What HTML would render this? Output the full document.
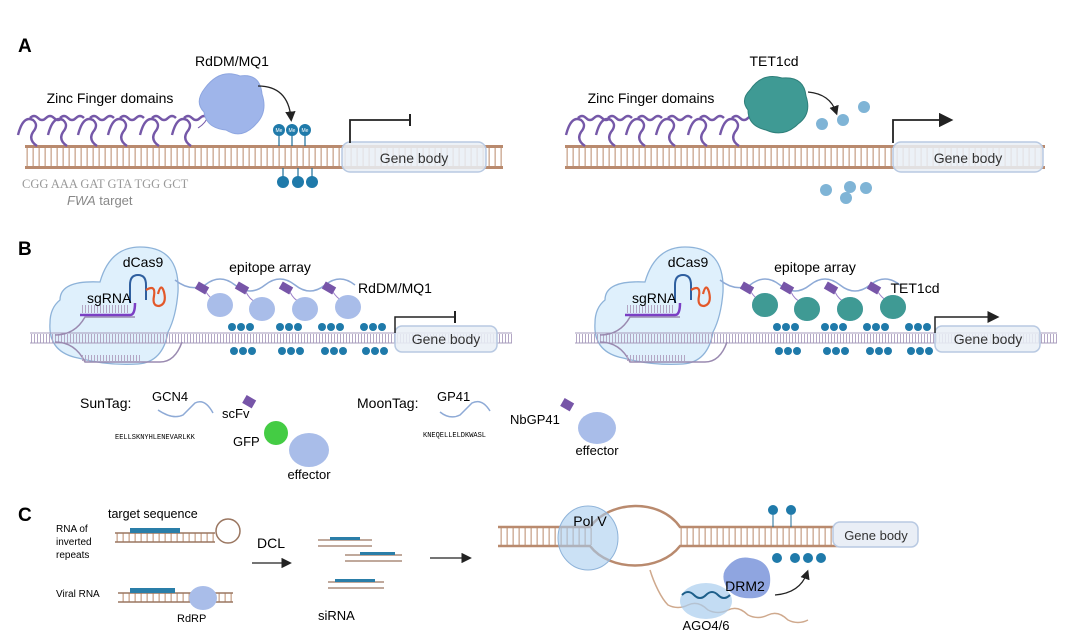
<!DOCTYPE html>
<html><head><meta charset="utf-8"><style>
html,body{margin:0;padding:0;background:#fff;}
svg{display:block;font-family:"Liberation Sans",sans-serif;}
</style></head><body>
<svg width="1080" height="643" viewBox="0 0 1080 643" xmlns="http://www.w3.org/2000/svg">
<defs>
<pattern id="rungA" width="6" height="20" patternUnits="userSpaceOnUse"><rect x="2.5" y="0" width="1.3" height="20" fill="#c9a48c"/></pattern>
<pattern id="rungB" width="3" height="10" patternUnits="userSpaceOnUse"><rect x="1" y="0" width="1" height="10" fill="#b3a6c4"/></pattern>
<marker id="ah" markerWidth="8" markerHeight="8" refX="5" refY="4" orient="auto"><path d="M0,0 L8,4 L0,8 z" fill="#222"/></marker>
</defs>

<text x="18" y="52" font-size="19" font-weight="bold">A</text>
<rect x="25" y="147" width="478" height="20" fill="url(#rungA)"/>
<rect x="25" y="145" width="478" height="3" fill="#b98a6e"/>
<rect x="25" y="166" width="478" height="3" fill="#b98a6e"/>
<rect x="342" y="142" width="144" height="30" rx="8" fill="#e9eef6" fill-opacity="0.85" stroke="#b8c9e2" stroke-width="1.5"/>
<text x="414" y="163" font-size="14" text-anchor="middle" fill="#333">Gene body</text>
<path d="M350,143 V120 H410" fill="none" stroke="#222" stroke-width="1.8"/>
<path d="M410,114 V126" stroke="#222" stroke-width="2"/>
<text x="232" y="66" font-size="14" text-anchor="middle">RdDM/MQ1</text>
<text x="110" y="103" font-size="14" text-anchor="middle">Zinc Finger domains</text>
<g fill="none" stroke="#7558a8" stroke-width="2.4">
<path d="M18,135 q5,-20 15,-15 q6,5 0,12 q-5,8 4,14 M30,118 q4,-4 8,0 q4,4 8,0 q4,-4 8,0 q4,4 8,0"/>
<path d="M48,135 q5,-20 15,-15 q6,5 0,12 q-5,8 4,14 M60,118 q4,-4 8,0 q4,4 8,0 q4,-4 8,0"/>
<path d="M78,135 q5,-20 15,-15 q6,5 0,12 q-5,8 4,14 M90,118 q4,-4 8,0 q4,4 8,0 q4,-4 8,0"/>
<path d="M108,135 q5,-20 15,-15 q6,5 0,12 q-5,8 4,14 M120,118 q4,-4 8,0 q4,4 8,0 q4,-4 8,0"/>
<path d="M140,135 q5,-20 15,-15 q6,5 0,12 q-5,8 4,14 M152,118 q4,-4 8,0 q4,4 8,0 q4,-4 8,0"/>
<path d="M172,135 q5,-20 15,-15 q6,5 0,12 q-5,8 4,14 M184,118 q4,-4 8,0 q4,4 8,0 q4,-4 8,0"/>
<path d="M198,128 q8,-5 10,-12" stroke-width="1"/>
</g>
<path d="M205,88 q15,-20 35,-12 q20,-3 22,18 q6,18 -6,30 q-14,16 -30,6 q-20,-2 -22,-18 q-10,-10 1,-24z" fill="#9fb5ea" stroke="#8ea6e0"/>
<path d="M258,86 q30,0 33,32" fill="none" stroke="#222" stroke-width="1.3" marker-end="url(#ah)"/>
<g stroke="#1c6e99" stroke-width="1.2">
<line x1="279" y1="134" x2="279" y2="146"/><line x1="292" y1="134" x2="292" y2="146"/><line x1="305" y1="134" x2="305" y2="146"/>
<line x1="283" y1="168" x2="283" y2="177"/><line x1="298" y1="168" x2="298" y2="177"/><line x1="312" y1="168" x2="312" y2="177"/>
</g>
<g fill="#1f7aaa"><circle cx="279" cy="130" r="6"/><circle cx="292" cy="130" r="6"/><circle cx="305" cy="130" r="6"/>
<circle cx="283" cy="182" r="6"/><circle cx="298" cy="182" r="6"/><circle cx="312" cy="182" r="6"/></g>
<g fill="#fff" font-size="5" text-anchor="middle"><text x="279" y="132">Me</text><text x="292" y="132">Me</text><text x="305" y="132">Me</text></g>
<text x="22" y="188" font-size="12.5" font-family="Liberation Serif,serif" fill="#999">CGG AAA GAT GTA TGG GCT</text>
<text x="67" y="205" font-size="13" fill="#888"><tspan font-style="italic">FWA</tspan> target</text>

<rect x="565" y="147" width="480" height="20" fill="url(#rungA)"/>
<rect x="565" y="145" width="480" height="3" fill="#b98a6e"/>
<rect x="565" y="166" width="480" height="3" fill="#b98a6e"/>
<rect x="893" y="142" width="150" height="30" rx="8" fill="#e9eef6" fill-opacity="0.85" stroke="#b8c9e2" stroke-width="1.5"/>
<text x="968" y="163" font-size="14" text-anchor="middle" fill="#333">Gene body</text>
<path d="M893,143 V120 H948" fill="none" stroke="#222" stroke-width="1.8" marker-end="url(#ah)"/>
<text x="774" y="66" font-size="14" text-anchor="middle">TET1cd</text>
<text x="651" y="103" font-size="14" text-anchor="middle">Zinc Finger domains</text>
<g fill="none" stroke="#7558a8" stroke-width="2.4" transform="translate(548,0)">
<path d="M18,135 q5,-20 15,-15 q6,5 0,12 q-5,8 4,14 M30,118 q4,-4 8,0 q4,4 8,0 q4,-4 8,0 q4,4 8,0"/>
<path d="M48,135 q5,-20 15,-15 q6,5 0,12 q-5,8 4,14 M60,118 q4,-4 8,0 q4,4 8,0 q4,-4 8,0"/>
<path d="M78,135 q5,-20 15,-15 q6,5 0,12 q-5,8 4,14 M90,118 q4,-4 8,0 q4,4 8,0 q4,-4 8,0"/>
<path d="M108,135 q5,-20 15,-15 q6,5 0,12 q-5,8 4,14 M120,118 q4,-4 8,0 q4,4 8,0 q4,-4 8,0"/>
<path d="M140,135 q5,-20 15,-15 q6,5 0,12 q-5,8 4,14 M152,118 q4,-4 8,0 q4,4 8,0 q4,-4 8,0"/>
<path d="M172,135 q5,-20 15,-15 q6,5 0,12 q-5,8 4,14 M184,118 q4,-4 8,0 q4,4 8,0 q4,-4 8,0"/>
</g>
<path d="M750,90 q12,-18 32,-12 q22,-2 24,18 q6,18 -8,28 q-14,14 -32,6 q-18,-4 -18,-20 q-8,-10 2,-20z" fill="#3f9a94" stroke="#2e7f7a"/>
<path d="M808,92 q22,2 28,20" fill="none" stroke="#222" stroke-width="1.2" marker-end="url(#ah)"/>
<g fill="#7fb4d6"><circle cx="822" cy="124" r="6"/><circle cx="843" cy="120" r="6"/><circle cx="864" cy="107" r="6"/>
<circle cx="826" cy="190" r="6"/><circle cx="846" cy="198" r="6"/><circle cx="866" cy="188" r="6"/><circle cx="850" cy="187" r="6"/></g>

<text x="18" y="255" font-size="19" font-weight="bold">B</text>
<g id="bl">
<path d="M60,300 q0,-20 40,-18 q10,-35 40,-35 q40,0 38,45 q-2,25 -10,40 q-5,30 -30,32 q-30,2 -60,-6 q-30,-6 -28,-35 q0,-15 10,-23z" fill="#dff0fc" stroke="#8eb3d9" stroke-width="1.3"/>
<rect x="30" y="334" width="482" height="9" fill="url(#rungB)"/>
<line x1="30" y1="333" x2="512" y2="333" stroke="#a79cbc"/><line x1="30" y1="343" x2="512" y2="343" stroke="#a79cbc"/>
<path d="M55,335 q20,0 30,-18 H135 M55,342 q20,0 30,20 H160 q15,0 22,-20" fill="none" stroke="#9a8ab0" stroke-width="1.5"/>
<path d="M80,315 H130 q5,0 5,-12" fill="none" stroke="#7b3fc4" stroke-width="2.5"/>
<rect x="80" y="305" width="50" height="8" fill="url(#rungB)"/>
<rect x="80" y="355" width="60" height="6" fill="url(#rungB)"/>
<path d="M130,303 v-18 q0,-10 8,-10 q8,0 8,10 v15" fill="none" stroke="#2f5f9f" stroke-width="2"/>
<path d="M146,290 q10,-6 8,6 q-2,10 5,10 q8,-2 5,-14 q-3,-10 -6,2" fill="none" stroke="#e3582a" stroke-width="2.2"/>
<path d="M175,280 q15,12 30,5 q15,-12 30,0 q15,12 30,0 q15,-12 30,0 q15,12 30,0 q15,-12 30,0" fill="none" stroke="#8eaad6" stroke-width="1.5"/>
<g fill="#7755a8"><rect x="196" y="284" width="12" height="8" transform="rotate(30 202 288)"/><rect x="236" y="284" width="12" height="8" transform="rotate(30 242 288)"/><rect x="280" y="284" width="12" height="8" transform="rotate(30 286 288)"/><rect x="323" y="284" width="12" height="8" transform="rotate(30 329 288)"/></g>
<g fill="none" stroke="#9a7fc8" stroke-width="1"><path d="M206,292 q4,6 8,8"/><path d="M246,292 q4,8 10,10"/><path d="M290,292 q4,8 10,10"/><path d="M333,292 q4,6 8,8"/></g>
<g fill="#a9bde9"><ellipse cx="220" cy="305" rx="13" ry="12"/><ellipse cx="262" cy="309" rx="13" ry="12"/><ellipse cx="305" cy="309" rx="13" ry="12"/><ellipse cx="348" cy="307" rx="13" ry="12"/></g>
<g fill="#1f7aaa">
<circle cx="232" cy="327" r="4"/><circle cx="241" cy="327" r="4"/><circle cx="250" cy="327" r="4"/>
<circle cx="280" cy="327" r="4"/><circle cx="289" cy="327" r="4"/><circle cx="298" cy="327" r="4"/>
<circle cx="322" cy="327" r="4"/><circle cx="331" cy="327" r="4"/><circle cx="340" cy="327" r="4"/>
<circle cx="364" cy="327" r="4"/><circle cx="373" cy="327" r="4"/><circle cx="382" cy="327" r="4"/>
<circle cx="234" cy="351" r="4"/><circle cx="243" cy="351" r="4"/><circle cx="252" cy="351" r="4"/>
<circle cx="282" cy="351" r="4"/><circle cx="291" cy="351" r="4"/><circle cx="300" cy="351" r="4"/>
<circle cx="325" cy="351" r="4"/><circle cx="334" cy="351" r="4"/><circle cx="343" cy="351" r="4"/>
<circle cx="366" cy="351" r="4"/><circle cx="375" cy="351" r="4"/><circle cx="384" cy="351" r="4"/>
</g>
<text x="143" y="267" font-size="14" text-anchor="middle">dCas9</text>
<text x="87" y="303" font-size="14">sgRNA</text>
<text x="270" y="272" font-size="14" text-anchor="middle">epitope array</text>
</g>
<rect x="395" y="326" width="102" height="26" rx="7" fill="#e9eef6" fill-opacity="0.85" stroke="#b8c9e2" stroke-width="1.5"/>
<text x="446" y="344" font-size="14" text-anchor="middle" fill="#333">Gene body</text>
<path d="M395,333 V317 H455" fill="none" stroke="#222" stroke-width="1.5"/><path d="M455,311 V323" stroke="#222" stroke-width="2"/>
<text x="395" y="293" font-size="14" text-anchor="middle">RdDM/MQ1</text>

<use href="#bl" transform="translate(545,0)"/>
<g fill="#3f9a94"><ellipse cx="765" cy="305" rx="13" ry="12"/><ellipse cx="807" cy="309" rx="13" ry="12"/><ellipse cx="850" cy="309" rx="13" ry="12"/><ellipse cx="893" cy="307" rx="13" ry="12"/></g>
<rect x="935" y="326" width="105" height="26" rx="7" fill="#e9eef6" fill-opacity="0.85" stroke="#b8c9e2" stroke-width="1.5"/>
<text x="988" y="344" font-size="14" text-anchor="middle" fill="#333">Gene body</text>
<path d="M935,333 V317 H995" fill="none" stroke="#222" stroke-width="1.5" marker-end="url(#ah)"/>
<text x="915" y="293" font-size="14" text-anchor="middle">TET1cd</text>

<text x="80" y="408" font-size="14">SunTag:</text>
<text x="152" y="401" font-size="13">GCN4</text>
<path d="M158,410 q15,10 25,5 l12,-12 q10,-5 18,10" fill="none" stroke="#8eaad6" stroke-width="1.5"/>
<text x="115" y="439" font-size="7" font-family="Liberation Mono,monospace">EELLSKNYHLENEVARLKK</text>
<rect x="244" y="397" width="11" height="9" fill="#7755a8" transform="rotate(30 249 401)"/>
<text x="222" y="418" font-size="13">scFv</text>
<ellipse cx="276" cy="433" rx="12" ry="12" fill="#44cc44"/>
<text x="233" y="446" font-size="13">GFP</text>
<ellipse cx="309" cy="450" rx="20" ry="17" fill="#a9bde9"/>
<text x="309" y="479" font-size="13" text-anchor="middle">effector</text>
<text x="357" y="408" font-size="14">MoonTag:</text>
<text x="437" y="401" font-size="13">GP41</text>
<path d="M440,412 q10,8 20,3 l12,-12 q10,-5 18,8" fill="none" stroke="#8eaad6" stroke-width="1.5"/>
<text x="423" y="437" font-size="7" font-family="Liberation Mono,monospace">KNEQELLELDKWASL</text>
<rect x="562" y="400" width="11" height="9" fill="#7755a8" transform="rotate(30 567 404)"/>
<text x="510" y="424" font-size="13">NbGP41</text>
<ellipse cx="597" cy="428" rx="19" ry="16" fill="#a9bde9"/>
<text x="597" y="455" font-size="13" text-anchor="middle">effector</text>

<text x="18" y="521" font-size="19" font-weight="bold">C</text>
<text x="108" y="518" font-size="12.5">target sequence</text>
<text x="56" y="532" font-size="10">RNA of</text><text x="56" y="545" font-size="10">inverted</text><text x="56" y="558" font-size="10">repeats</text>
<rect x="115" y="533" width="100" height="9" fill="url(#rungA)"/>
<path d="M115,533 H215 M115,542 H215" stroke="#9a7660" stroke-width="1.5"/>
<circle cx="228" cy="531" r="12" fill="none" stroke="#9a7660" stroke-width="1.5"/>
<rect x="130" y="528" width="50" height="5" fill="#2a7ea8"/>
<text x="56" y="597" font-size="10">Viral RNA</text>
<rect x="118" y="593" width="115" height="9" fill="url(#rungA)"/>
<path d="M118,593 H233 M118,602 H233" stroke="#9a7660" stroke-width="1.5"/>
<rect x="130" y="588" width="45" height="5" fill="#2a7ea8"/>
<ellipse cx="203" cy="598" rx="14" ry="12" fill="#a9bde9"/>
<text x="177" y="622" font-size="11">RdRP</text>
<text x="257" y="548" font-size="14">DCL</text>
<line x1="252" y1="563" x2="288" y2="563" stroke="#222" stroke-width="1.3" marker-end="url(#ah)"/>
<g stroke="#9a7660" stroke-width="1.3"><path d="M318,540 H372 M318,546 H372"/><path d="M345,555 H402 M345,561 H402"/><path d="M328,582 H384 M328,588 H384"/></g>
<g fill="#2a7ea8"><rect x="330" y="537" width="30" height="3"/><rect x="360" y="552" width="35" height="3"/><rect x="335" y="579" width="40" height="3"/></g>
<text x="318" y="620" font-size="13">siRNA</text>
<line x1="430" y1="558" x2="468" y2="558" stroke="#222" stroke-width="1.3" marker-end="url(#ah)"/>
<rect x="498" y="528" width="390" height="17" fill="url(#rungA)"/>
<rect x="592" y="526" width="86" height="22" fill="#fff"/>
<path d="M498,527 H590 C610,500 660,498 680,527 H888 M498,546 H590 C610,572 660,572 680,546 H888" fill="none" stroke="#b98a6e" stroke-width="2.5"/>
<ellipse cx="588" cy="538" rx="30" ry="32" fill="#a9cdee" fill-opacity="0.6" stroke="#8eb3d9"/>
<text x="590" y="526" font-size="14" text-anchor="middle">Pol V</text>
<rect x="833" y="522" width="85" height="25" rx="7" fill="#e9eef6" stroke="#b8c9e2" stroke-width="1.5"/>
<text x="876" y="540" font-size="13" text-anchor="middle" fill="#333">Gene body</text>
<path d="M650,570 q3,10 8,20 q5,10 10,15 q10,5 20,0 q10,-5 20,5 q10,5 20,0 q10,-5 20,5 q10,5 20,0 q10,-5 20,5 q10,5 20,0" fill="none" stroke="#cfa98d" stroke-width="1.5"/>
<ellipse cx="706" cy="601" rx="26" ry="18" fill="#a9cdee" fill-opacity="0.7"/>
<path d="M682,595 q6,-6 12,0 q6,6 12,0 q6,-6 12,0 q6,6 12,0" fill="none" stroke="#1e5f8a" stroke-width="2"/>
<path d="M725,570 q10,-15 25,-12 q18,2 20,18 q2,20 -15,22 q-20,2 -28,-10 q-6,-10 -2,-18z" fill="#8fa5e0"/>
<text x="745" y="591" font-size="14" text-anchor="middle">DRM2</text>
<path d="M775,595 q25,-2 32,-22" fill="none" stroke="#222" stroke-width="1.2" marker-end="url(#ah)"/>
<text x="706" y="630" font-size="13" text-anchor="middle">AGO4/6</text>
<g fill="#1f7aaa"><circle cx="773" cy="510" r="5"/><circle cx="791" cy="510" r="5"/>
<circle cx="777" cy="558" r="5"/><circle cx="795" cy="558" r="5"/><circle cx="808" cy="558" r="5"/><circle cx="821" cy="558" r="5"/></g>
<g stroke="#1c6e99"><line x1="773" y1="515" x2="773" y2="527"/><line x1="791" y1="515" x2="791" y2="527"/></g>
</svg>
</body></html>
